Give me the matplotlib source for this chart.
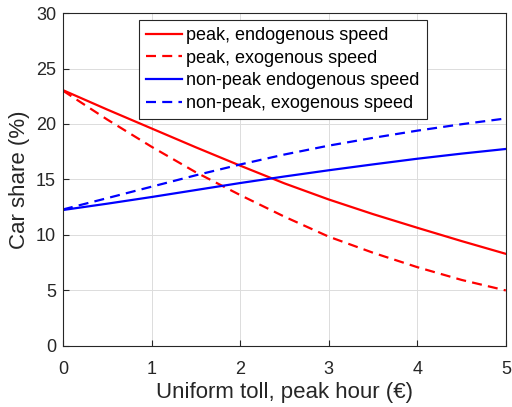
import numpy as np
import matplotlib.pyplot as plt

plt.rcParams['font.family'] = ['Liberation Sans', 'DejaVu Sans']

toll = [0, 0.5, 1, 1.5, 2, 2.5, 3, 3.5, 4, 4.5, 5]

peak_endo = [23.05, 21.3, 19.6, 17.9, 16.25, 14.65, 13.2, 11.88, 10.65, 9.45, 8.3]
peak_exo = [23.0, 20.4, 17.95, 15.65, 13.6, 11.65, 9.85, 8.4, 7.1, 5.95, 5.0]
nonpeak_endo = [12.25, 12.82, 13.42, 14.05, 14.68, 15.27, 15.83, 16.36, 16.87, 17.33, 17.75]
nonpeak_exo = [12.3, 13.32, 14.35, 15.38, 16.35, 17.25, 18.05, 18.75, 19.4, 19.98, 20.5]

fig = plt.figure(figsize=(5.12, 4.07), dpi=100)
ax = fig.add_axes([0.123, 0.150, 0.865, 0.818])

dash = (0, (4.5, 2.8))
ax.plot(toll, peak_endo, color='red', linewidth=1.6, label='peak, endogenous speed')
ax.plot(toll, peak_exo, color='red', linewidth=1.6, linestyle=dash, label='peak, exogenous speed')
ax.plot(toll, nonpeak_endo, color='blue', linewidth=1.6, label='non-peak endogenous speed')
ax.plot(toll, nonpeak_exo, color='blue', linewidth=1.6, linestyle=dash, label='non-peak, exogenous speed')

ax.set_xlim(0, 5)
ax.set_ylim(0, 30)
ax.set_xticks(range(0, 6))
ax.set_yticks(range(0, 31, 5))
ax.tick_params(direction='in', labelsize=13, length=4, colors='#262626')
ax.tick_params(axis='x', pad=11)
ax.tick_params(axis='y', pad=5)
ax.grid(True, color='#dcdcdc', linewidth=0.7)
for s in ax.spines.values():
    s.set_color('#262626')
    s.set_linewidth(0.8)

ax.set_xlabel('Uniform toll, peak hour (€)', fontsize=16, color='#262626', labelpad=3)
ax.set_ylabel('Car share (%)', fontsize=16, color='#262626', labelpad=4)

leg = ax.legend(loc='upper left', bbox_to_anchor=(0.172, 0.98), fontsize=13,
                fancybox=False, edgecolor='#262626', framealpha=1,
                handlelength=2.0, handletextpad=0.2, borderpad=0.4, labelspacing=0.32,
                borderaxespad=0)
leg.get_frame().set_linewidth(0.8)

fig.savefig('out.png', dpi=100)
